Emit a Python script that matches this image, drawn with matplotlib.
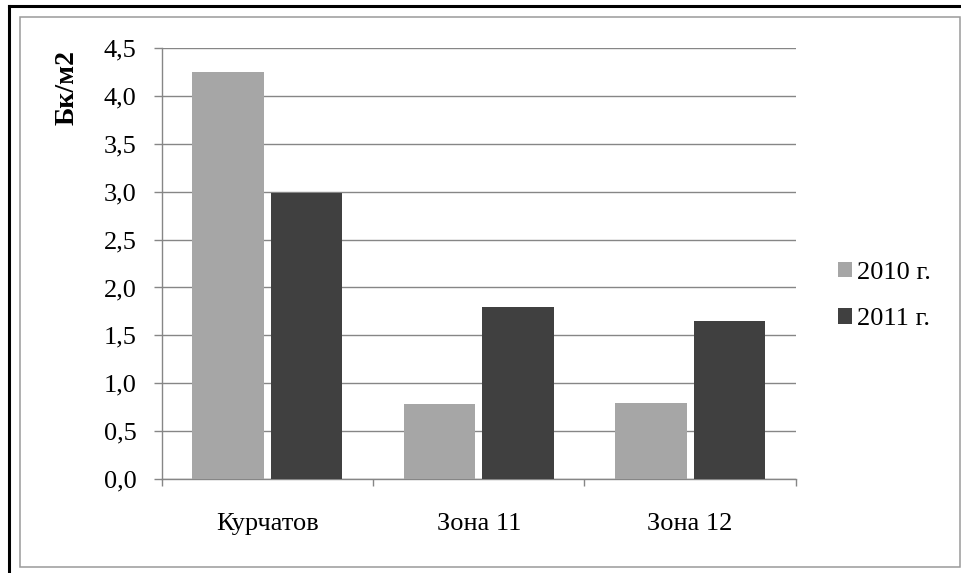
import matplotlib
matplotlib.use("Agg")
import matplotlib.pyplot as plt
from matplotlib.patches import Rectangle
from matplotlib.lines import Line2D
import numpy as np

categories = ["Курчатов", "Зона 11", "Зона 12"]
series_names = ["2010 г.", "2011 г."]
values_2010 = [4.25, 0.78, 0.80]
values_2011 = [2.98, 1.80, 1.65]
y_ticks = [0.0, 0.5, 1.0, 1.5, 2.0, 2.5, 3.0, 3.5, 4.0, 4.5]
y_label = "Бк/м2"

plt.rcParams["font.family"] = ["Liberation Serif", "DejaVu Serif"]

W, H = 961, 573
FS = 19
fig = plt.figure(figsize=(W / 100, H / 100), dpi=100)

# outer frames
fig.add_artist(Line2D([8.5 / W, 8.5 / W], [0, 1 - 5.5 / H], transform=fig.transFigure,
                      color="black", lw=2.2))
fig.add_artist(Line2D([8.5 / W, 1], [1 - 5.5 / H, 1 - 5.5 / H], transform=fig.transFigure,
                      color="black", lw=2.2))
fig.add_artist(Rectangle((20 / W, 1 - 567 / H), (959.5 - 20) / W, (567 - 17) / H,
                         transform=fig.transFigure, fill=False, edgecolor="#9a9a9a", lw=1.1))

ax = fig.add_axes([161.7 / W, 1 - 479.3 / H, (795.7 - 161.7) / W, (479.3 - 47.7) / H])

x = np.arange(len(categories))
bw = 0.338
off = bw / 2 + 0.0165
ax.bar(x - off, values_2010, bw, color="#a6a6a6", zorder=3, label=series_names[0])
ax.bar(x + off, values_2011, bw, color="#404040", zorder=3, label=series_names[1])

ax.set_xlim(-0.5, len(categories) - 0.5)
ax.set_ylim(0, 4.5)
ax.set_yticks(y_ticks)
ax.set_yticklabels([f"{v:.1f}".replace(".", ",") for v in y_ticks])
ax.set_xticks(x)
ax.set_xticklabels(categories)
ax.set_xticks(np.arange(-0.5, len(categories), 1.0), minor=True)

ax.grid(axis="y", color="#868686", lw=1.0, zorder=0)
for s in ["top", "right"]:
    ax.spines[s].set_visible(False)
for s in ["left", "bottom"]:
    ax.spines[s].set_color("#868686")
    ax.spines[s].set_linewidth(1.0)

ax.tick_params(axis="y", length=6, color="#868686", width=1.0, labelsize=FS, pad=12)
ax.tick_params(axis="x", which="major", length=0, labelsize=FS, pad=24)
ax.tick_params(axis="x", which="minor", length=5, color="#868686", width=1.0)

fig.text(67 / W, 1 - 87.5 / H, y_label, rotation=90, ha="center", va="center",
         fontsize=20, fontweight="bold")

leg = fig.legend(loc="center left", bbox_to_anchor=(838 / W, 1 - 296 / H), frameon=False,
                 fontsize=FS, handlelength=0.53, handleheight=0.53, handletextpad=0.2,
                 labelspacing=0.92, borderaxespad=0, borderpad=0)

fig.savefig("out.png", dpi=100)
